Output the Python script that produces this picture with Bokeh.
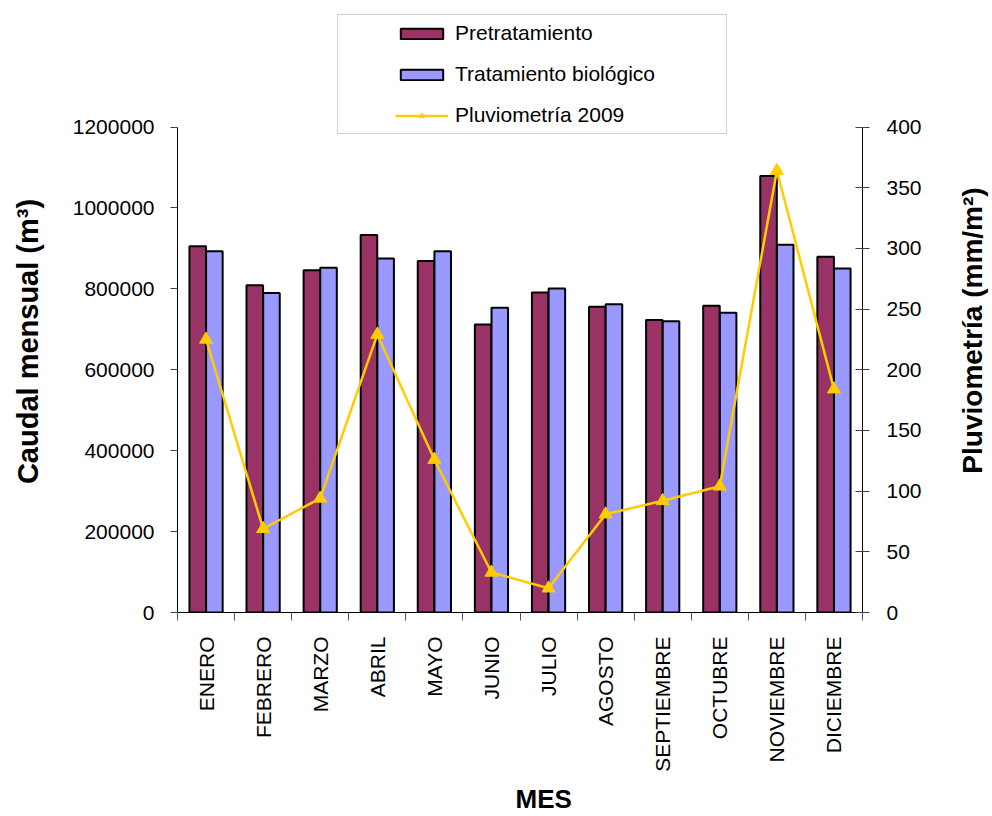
import math
import numpy as np
from bokeh.plotting import figure
from bokeh.layouts import row
from bokeh.models import (Range1d, LinearAxis, FixedTicker, BasicTickFormatter,
                          Legend, LegendItem, BoxAnnotation, ColumnDataSource,
                          Title, Label)
from bokeh.embed import file_html
from bokeh.resources import INLINE

# ---- data ----
months = ["ENERO", "FEBRERO", "MARZO", "ABRIL", "MAYO", "JUNIO", "JULIO",
          "AGOSTO", "SEPTIEMBRE", "OCTUBRE", "NOVIEMBRE", "DICIEMBRE"]
pretratamiento = [905000, 809000, 846000, 933000, 869000, 712000, 791000,
                  756000, 723000, 758000, 1079000, 879000]
biologico = [893000, 790000, 852000, 875000, 893000, 753000, 801000,
             762000, 720000, 741000, 909000, 850000]
pluviometria = [225, 69, 94, 229, 126, 33, 20, 81, 92, 104, 364, 184]
left_ticks = [0, 200000, 400000, 600000, 800000, 1000000, 1200000]
right_ticks = [0, 50, 100, 150, 200, 250, 300, 350, 400]
LEFT_MAX = 1200000
RIGHT_MAX = 400

FONT = "Liberation Sans"
idx = np.arange(len(months))

# frame geometry: the value axes occupy the lower 485.5 px of a 612 px tall
# frame, the upper part of the frame holds the legend (so it is not clipped)
FRAME_W, FRAME_H, AXIS_H = 685, 612, 485.5
top_factor = FRAME_H / AXIS_H
TOTAL_H = FRAME_H + 204
LEFT_STRIP_W = 60   # strip on the left carrying the left axis title
SIDE_W = 60         # strip on the right carrying the right axis title
MAIN_LEFT = 177 - LEFT_STRIP_W

src = ColumnDataSource(dict(
    xp=idx - 0.146, xb=idx + 0.146, xc=idx,
    pre=pretratamiento, bio=biologico, rain=pluviometria))

p = figure(frame_width=FRAME_W, frame_height=FRAME_H,
           output_backend="svg", toolbar_location=None,
           x_range=Range1d(-0.5, len(months) - 0.5),
           y_range=Range1d(0, LEFT_MAX * top_factor),
           min_border_left=MAIN_LEFT, min_border_right=992 - 177 - FRAME_W - SIDE_W,
           min_border_top=0, min_border_bottom=204, outline_line_color=None,
           background_fill_color="white", border_fill_color="white")
p.extra_y_ranges = {"rain": Range1d(0, RIGHT_MAX * top_factor)}
p.xgrid.visible = False
p.ygrid.visible = False

r_pre = p.vbar(x="xp", top="pre", width=0.29, bottom=0, source=src,
               fill_color="#993366", line_color="black", line_width=2)
r_bio = p.vbar(x="xb", top="bio", width=0.29, bottom=0, source=src,
               fill_color="#9999FF", line_color="black", line_width=2)
r_line = p.line(x="xc", y="rain", source=src, y_range_name="rain",
                line_color="#FFCC00", line_width=2.5)
r_mark = p.scatter(x="xc", y="rain", source=src, y_range_name="rain",
                   marker="triangle", size=13, fill_color="#FFCC00",
                   line_color="#FFCC00")

# x axis
xa = p.xaxis[0]
xa.ticker = FixedTicker(ticks=list(idx), minor_ticks=list(np.arange(-0.5, len(months), 1.0)))
xa.major_label_overrides = {int(i): m for i, m in zip(idx, months)}
xa.major_label_orientation = math.pi / 2
xa.major_tick_out = 0
xa.major_tick_in = 0
xa.minor_tick_out = 8
xa.minor_tick_in = 0
xa.minor_tick_line_color = "#555555"
xa.axis_line_color = "black"
xa.major_label_standoff = 16
xa.major_label_text_font = FONT
xa.major_label_text_font_size = "21px"
xa.major_label_text_color = "black"

# left axis
ya = p.yaxis[0]
ya.ticker = FixedTicker(ticks=left_ticks)
ya.bounds = (0, LEFT_MAX)
ya.formatter = BasicTickFormatter(use_scientific=False)
ya.major_tick_out = 7
ya.major_tick_in = 0
ya.minor_tick_line_color = None
ya.axis_line_color = "black"
ya.major_tick_line_color = "#444444"
ya.major_label_standoff = 16
ya.major_label_text_font = FONT
ya.major_label_text_font_size = "21px"
ya.major_label_text_color = "black"

# right axis
ra = LinearAxis(y_range_name="rain", ticker=FixedTicker(ticks=right_ticks))
ra.bounds = (0, RIGHT_MAX)
ra.major_tick_out = 7
ra.major_tick_in = 7
ra.minor_tick_line_color = None
ra.axis_line_color = "black"
ra.major_tick_line_color = "#444444"
ra.major_label_standoff = 17
ra.major_label_text_font = FONT
ra.major_label_text_font_size = "21px"
ra.major_label_text_color = "black"
p.add_layout(ra, "right")

# bottom title as a panel title
t_below = Title(text="MES", align="left", offset=338, standoff=15,
                text_font=FONT, text_font_style="bold",
                text_font_size="26px", text_color="black")
p.add_layout(t_below, "below")

# legend box (canvas pixels of the main figure)
box = BoxAnnotation(left=337 - LEFT_STRIP_W, right=726 - LEFT_STRIP_W, top=14, bottom=133,
                    left_units="canvas", right_units="canvas",
                    top_units="canvas", bottom_units="canvas",
                    fill_color=None, fill_alpha=0, line_color="#666666",
                    line_width=1, level="overlay")
p.add_layout(box)

legend = Legend(items=[
    LegendItem(label="Pretratamiento", renderers=[r_pre]),
    LegendItem(label="Tratamiento biológico", renderers=[r_bio]),
    LegendItem(label="Pluviometría 2009", renderers=[r_line, r_mark]),
], location=(218, 485), orientation="vertical")
legend.border_line_color = None
legend.background_fill_alpha = 0
legend.padding = 6
legend.margin = 0
legend.spacing = 17
legend.glyph_width = 53
legend.glyph_height = 13
legend.label_height = 22
legend.label_standoff = 7
legend.label_text_font = FONT
legend.label_text_font_size = "21px"
legend.label_text_color = "black"
p.add_layout(legend, "center")


def strip(width, text, x, y, size):
    f = figure(width=width, height=TOTAL_H, output_backend="svg",
               toolbar_location=None, x_axis_location=None, y_axis_location=None,
               min_border=0, min_border_left=0, min_border_right=0,
               min_border_top=0, min_border_bottom=0, outline_line_color=None,
               x_range=Range1d(0, 1), y_range=Range1d(0, 1),
               background_fill_color="white", border_fill_color="white")
    f.grid.visible = False
    f.add_layout(Label(x=x, y=y, x_units="canvas", y_units="canvas",
                       text=text, angle=math.pi / 2,
                       text_align="center", text_baseline="middle",
                       text_font=FONT, text_font_style="bold",
                       text_font_size=size, text_color="black"))
    return f


left_strip = strip(LEFT_STRIP_W, "Caudal mensual (m³)", 27, 341, "29px")
right_strip = strip(SIDE_W, "Pluviometría (mm/m²)", 40, 330, "28px")

layout = row(left_strip, p, right_strip, spacing=0)
open("out.html", "w").write(file_html(layout, INLINE))
